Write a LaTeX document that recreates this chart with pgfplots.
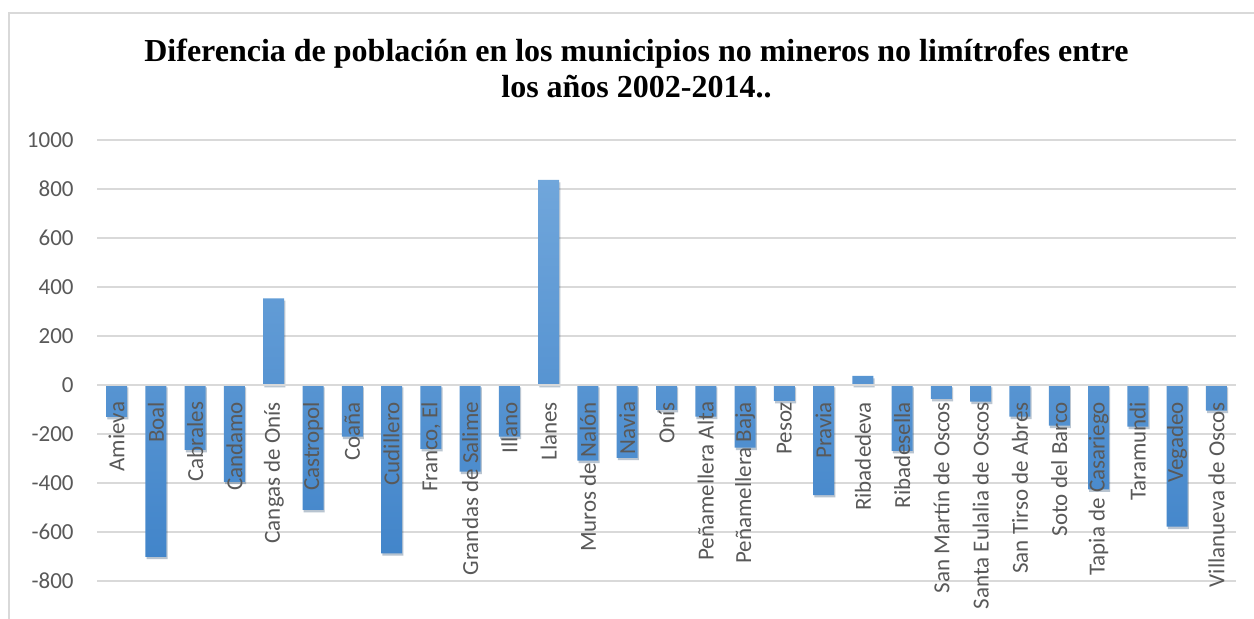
\documentclass[border=0pt]{standalone}
\usepackage{fontspec}
\setmainfont{Carlito}
\newfontfamily\titlefont{Liberation Serif}
\usepackage{pgfplots}
\usepackage{pgfplotstable}
\pgfplotsset{compat=1.18}
\definecolor{gridgray}{HTML}{D9D9D9}
\definecolor{labgray}{HTML}{595959}
\definecolor{bartop}{HTML}{70A6DB}
\definecolor{barbot}{HTML}{4285CA}
\pgfplotsset{
  layers/mylayers/.define layer set={
    axis background,axis grid,axis ticks,pre main,main,axis lines,axis tick labels,axis descriptions,axis foreground
  }{
    grid style={/pgfplots/on layer=axis grid},
    tick style={/pgfplots/on layer=axis ticks},
    axis line style={/pgfplots/on layer=axis lines},
    label style={/pgfplots/on layer=axis descriptions},
    legend style={/pgfplots/on layer=axis descriptions},
    title style={/pgfplots/on layer=axis descriptions},
    colorbar style={/pgfplots/on layer=axis descriptions},
    ticklabel style={/pgfplots/on layer=axis tick labels},
    axis background@ style={/pgfplots/on layer=axis background},
    3d box foreground style={/pgfplots/on layer=axis foreground},
  },
}
\pgfplotstableread{
x y
0 -130
1 -701
2 -265
3 -395
4 354
5 -510
6 -211
7 -687
8 -261
9 -354
10 -211
11 837
12 -309
13 -297
14 -102
15 -129
16 -256
17 -65
18 -449
19 37
20 -269
21 -57
22 -68
23 -129
24 -166
25 -426
26 -170
27 -578
28 -105
}\datatable
\begin{document}
\begin{tikzpicture}
\begin{axis}[
  set layers=mylayers,
  at={(0,0)}, anchor=south west,
  scale only axis, width=569.5pt, height=239.5pt,
  xmin=-0.5, xmax=28.5, ymin=-955, ymax=1000,
  separate axis lines,
  axis x line=middle, axis y line=left,
  x axis line style={draw=gridgray, line width=0.65pt, -},
  y axis line style={draw=none},
  ymajorgrids, grid style={draw=gridgray, line width=0.65pt},
  major tick length=0pt,
  tick style={draw=none},
  ytick={-800,-600,...,1000},
  yticklabels={-800,-600,-400,-200,0,200,400,600,800,1000},
  yticklabel style={font=\fontsize{11.5}{13}\selectfont, text=labgray, anchor=east, inner sep=0pt, xshift=-11.5pt},
  xtick={0,...,28},
  xticklabels={Amieva,Boal,Cabrales,Candamo,Cangas de Onís,Castropol,Coaña,Cudillero,{Franco, El},Grandas de Salime,Illano,Llanes,Muros de Nalón,Navia,Onís,Peñamellera Alta,Peñamellera Baja,Pesoz,Pravia,Ribadedeva,Ribadesella,San Martín de Oscos,Santa Eulalia de Oscos,San Tirso de Abres,Soto del Barco,Tapia de Casariego,Taramundi,Vegadeo,Villanueva de Oscos},
  xticklabel style={font=\fontsize{11.5}{13}\selectfont, text=labgray, inner sep=0pt, yshift=-8.3pt, rotate=90, anchor=east},
  ybar, bar width=10.5pt,
]
\addplot[ybar, bar shift=0pt, draw=none,
  preaction={fill=black, fill opacity=0.18, transform canvas={shift={(0.6pt,-1.2pt)}}},
  shade, top color=bartop, bottom color=barbot] table[x=x,y=y]{\datatable};
\end{axis}
\draw[gridgray, line width=0.7pt] (-44pt,-20pt) -- (-44pt,303pt) -- (600pt,303pt);
\node[font=\titlefont\bfseries\fontsize{16}{19}\selectfont, anchor=base, inner sep=0pt] at (269.75pt,278.5pt) {Diferencia de población en los municipios no mineros no limítrofes entre};
\node[font=\titlefont\bfseries\fontsize{16}{19}\selectfont, anchor=base, inner sep=0pt] at (269.75pt,260.5pt) {los años 2002-2014..};
\pgfresetboundingbox
\useasboundingbox (-48.5pt,0pt) rectangle (578.5pt,309.5pt);
\end{tikzpicture}
\end{document}
